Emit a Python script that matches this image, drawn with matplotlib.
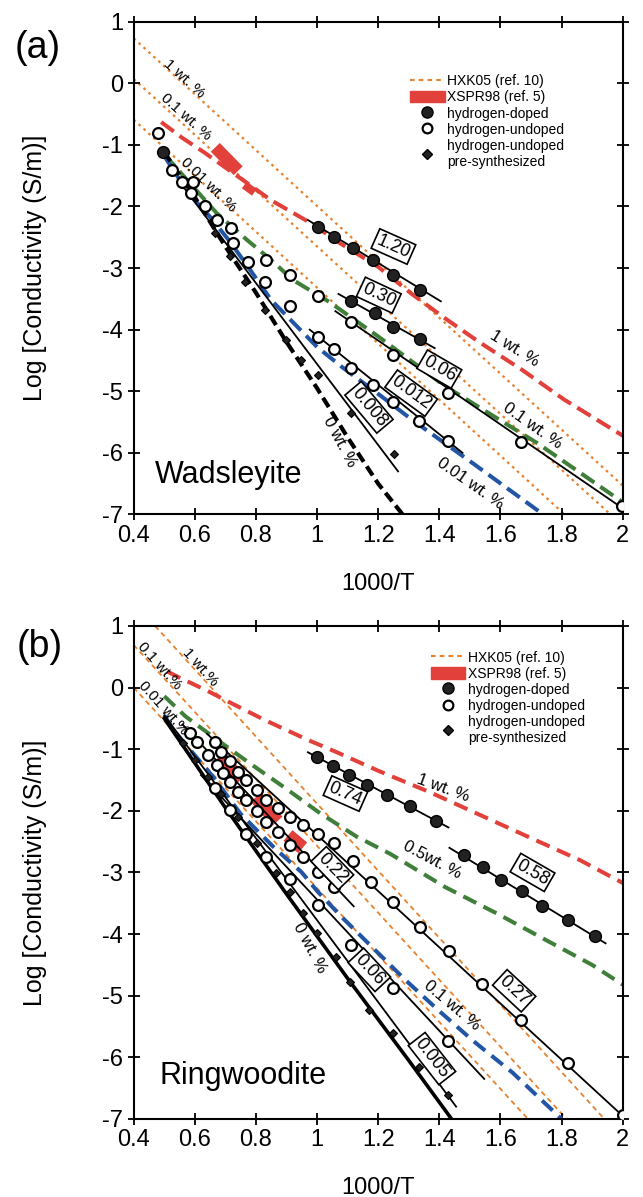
import matplotlib
matplotlib.use("Agg")
import matplotlib.pyplot as plt
from matplotlib.lines import Line2D
from matplotlib.patches import Patch

plt.rcParams['font.family'] = ['Liberation Sans', 'DejaVu Sans']
plt.rcParams['axes.unicode_minus'] = False

ORANGE = '#E8822E'
RED = '#E2403A'
GREEN = '#3F7F3A'
BLUE = '#2255A4'

x_ticks = [0.4, 0.6, 0.8, 1.0, 1.2, 1.4, 1.6, 1.8, 2.0]
x_tick_labels = ['0.4', '0.6', '0.8', '1', '1.2', '1.4', '1.6', '1.8', '2']
y_ticks = [1, 0, -1, -2, -3, -4, -5, -6, -7]
y_tick_labels = ['1', '0', '-1', '-2', '-3', '-4', '-5', '-6', '-7']

# ---------------- (a) Wadsleyite ----------------
# HXK05 model lines (end points) for 1, 0.1, 0.01 wt.%
a_hxk_x = [[0.4, 2.0], [0.4, 1.96], [0.4, 1.81]]
a_hxk_y = [[0.73, -6.53], [0.07, -7.0], [-0.59, -7.0]]

# this study, model curves
a_red_x = [0.49, 0.56, 0.63, 0.76, 0.85, 0.92, 0.99, 1.06, 1.2, 1.31, 1.42, 1.53, 1.67, 1.81, 2.0]
a_red_y = [-0.63, -0.89, -1.12, -1.58, -1.9, -2.1, -2.3, -2.55, -2.98, -3.42, -3.82, -4.2, -4.65, -5.14, -5.72]
a_green_x = [0.5, 0.58, 0.67, 0.77, 0.85, 0.92, 1.04, 1.2, 1.42, 1.56, 1.72, 2.0]
a_green_y = [-1.15, -1.6, -2.1, -2.54, -2.87, -3.19, -3.55, -4.11, -4.92, -5.35, -5.84, -6.8]
a_blue_x = [0.5, 0.53, 0.58, 0.65, 0.71, 0.77, 0.85, 1.0, 1.08, 1.21, 1.31, 1.51, 1.74]
a_blue_y = [-1.18, -1.41, -1.79, -2.17, -2.54, -2.95, -3.52, -4.28, -4.6, -5.08, -5.46, -6.17, -7.0]
a_black_x = [0.5, 0.6, 0.7, 0.8, 0.9, 1.0, 1.1, 1.2, 1.28]
a_black_y = [-1.12, -1.85, -2.65, -3.4, -4.2, -4.95, -5.75, -6.5, -7.0]

# XSPR98 segments
a_xspr_x = [[0.667, 0.742], [0.762, 0.795]]
a_xspr_y = [[-1.04, -1.42], [-1.65, -1.77]]
a_xspr_w = [9, 6]

# hydrogen-doped
a_d120_x = [1.003, 1.057, 1.117, 1.182, 1.25, 1.336]
a_d120_y = [-2.33, -2.49, -2.68, -2.87, -3.11, -3.35]
a_d120_fit = ([0.97, 1.405], [-2.22, -3.54])
a_d030_x = [1.112, 1.188, 1.25, 1.337]
a_d030_y = [-3.54, -3.73, -3.95, -4.15]
a_d030_fit = ([1.07, 1.385], [-3.42, -4.3])
a_dstart_x = [0.497]
a_dstart_y = [-1.12]

# hydrogen-undoped
a_u006_x = [1.112, 1.248, 1.427, 1.667, 1.998]
a_u006_y = [-3.87, -4.41, -5.02, -5.83, -6.87]
a_u006_fit = ([1.06, 2.0], [-3.7, -6.9])
a_u0012_x = [1.003, 1.057, 1.112, 1.182, 1.25, 1.335, 1.427]
a_u0012_y = [-4.12, -4.32, -4.63, -4.9, -5.18, -5.48, -5.81]
a_u0012_fit = ([0.976, 1.476], [-4.0, -6.0])
a_uhigh_x = [0.48, 0.524, 0.557, 0.595, 0.586, 0.633, 0.671, 0.72, 0.725, 0.774, 0.834, 0.829, 0.91, 0.91, 1.003]
a_uhigh_y = [-0.81, -1.41, -1.60, -1.60, -1.78, -2.0, -2.22, -2.35, -2.6, -2.9, -2.87, -3.22, -3.11, -3.62, -3.46]

# hydrogen-undoped pre-synthesized
a_p_x = [0.665, 0.714, 0.763, 0.829, 0.9, 0.948, 1.003, 1.112, 1.253]
a_p_y = [-2.43, -2.81, -3.22, -3.68, -4.16, -4.49, -4.74, -5.36, -6.02]
a_p_fit = ([0.55, 1.265], [-1.6, -6.3])

a_boxes = [('1.20', 1.25, -2.65, -24), ('0.30', 1.202, -3.44, -25), ('0.06', 1.40, -4.64, -30),
           ('0.012', 1.308, -5.03, -36), ('0.008', 1.17, -5.26, -50)]
a_labels = [('1 wt. %', 0.565, 0.08, -42, 11), ('0.1 wt. %', 0.572, -0.545, -42, 11),
            ('0.01 wt. %', 0.645, -1.64, -44, 11), ('1 wt. %', 1.645, -4.3, -32, 12),
            ('0.1 wt. %', 1.705, -5.57, -35, 12), ('0.01 wt. %', 1.503, -6.49, -35, 12),
            ('0 wt. %', 1.073, -5.82, -62, 12)]

# ---------------- (b) Ringwoodite ----------------
b_hxk_x = [[0.47, 1.94], [0.4, 1.816], [0.4, 1.69]]
b_hxk_y = [[1.0, -7.0], [0.69, -7.0], [0.0, -7.0]]

b_red_x = [0.51, 0.55, 0.64, 0.71, 0.83, 0.97, 1.06, 1.2, 1.37, 1.53, 1.69, 1.86, 2.0]
b_red_y = [0.26, 0.16, -0.05, -0.23, -0.53, -0.85, -1.04, -1.35, -1.7, -2.06, -2.42, -2.8, -3.17]
b_green_x = [0.5, 0.57, 0.66, 0.78, 0.89, 1.01, 1.13, 1.24, 1.42, 1.59, 1.75, 1.9, 2.0]
b_green_y = [-0.14, -0.47, -0.8, -1.23, -1.61, -2.04, -2.42, -2.7, -3.24, -3.67, -4.1, -4.5, -4.82]
b_blue_x = [0.5, 0.53, 0.66, 0.75, 0.86, 0.95, 1.0, 1.08, 1.29, 1.4, 1.51, 1.64, 1.8]
b_blue_y = [-0.45, -0.69, -1.45, -2.05, -2.6, -3.0, -3.3, -3.72, -4.75, -5.25, -5.73, -6.25, -7.0]
b_black_x = [0.5, 0.7, 0.9, 1.1, 1.3, 1.44]
b_black_y = [-0.5, -1.95, -3.35, -4.72, -6.05, -7.0]

b_xspr_x = [[0.68, 0.75], [0.8, 0.87], [0.905, 0.953]]
b_xspr_y = [[-1.12, -1.5], [-1.78, -2.17], [-2.4, -2.6]]
b_xspr_w = [10, 10, 10]

b_d074_x = [1.0, 1.053, 1.105, 1.162, 1.228, 1.303, 1.39]
b_d074_y = [-1.13, -1.28, -1.42, -1.58, -1.74, -1.93, -2.16]
b_d074_fit = ([0.97, 1.43], [-1.05, -2.27])
b_d058_x = [1.482, 1.542, 1.602, 1.67, 1.737, 1.822, 1.908]
b_d058_y = [-2.72, -2.91, -3.12, -3.30, -3.55, -3.77, -4.03]
b_d058_fit = ([1.433, 1.944], [-2.6, -4.15])

b_u027_x = [0.665, 0.687, 0.714, 0.741, 0.769, 0.802, 0.834, 0.872, 0.91, 0.954, 1.003, 1.057,
            1.116, 1.176, 1.25, 1.337, 1.431, 1.539, 1.667, 1.821, 2.0]
b_u027_y = [-0.88, -1.04, -1.2, -1.37, -1.5, -1.66, -1.82, -1.96, -2.1, -2.23, -2.37, -2.53,
            -2.82, -3.16, -3.48, -3.88, -4.28, -4.81, -5.4, -6.09, -6.93]
b_u027_fit = ([0.64, 2.0], [-0.75, -6.95])
b_u022_x = [0.584, 0.606, 0.644, 0.671, 0.693, 0.714, 0.741, 0.769, 0.802, 0.834, 0.872, 0.91,
            0.954, 1.003, 1.055]
b_u022_y = [-0.73, -0.89, -1.09, -1.26, -1.39, -1.53, -1.69, -1.82, -2.01, -2.18, -2.34, -2.56,
            -2.75, -2.99, -3.23]
b_u022_fit = ([0.56, 1.12], [-0.6, -3.55])
b_u006_x = [0.665, 0.714, 0.769, 0.834, 0.91, 1.003, 1.11, 1.249, 1.429]
b_u006_y = [-1.63, -1.99, -2.37, -2.75, -3.1, -3.53, -4.17, -4.87, -5.73]
b_u006_fit = ([0.62, 1.547], [-1.42, -6.35])

b_p_x = [0.56, 0.60, 0.644, 0.687, 0.741, 0.802, 0.867, 0.91, 0.954, 1.0, 1.062, 1.109,
         1.171, 1.248, 1.335, 1.427]
b_p_y = [-0.9, -1.18, -1.45, -1.72, -2.1, -2.53, -3.01, -3.32, -3.66, -3.98, -4.38, -4.78,
         -5.23, -5.61, -6.15, -6.61]
b_p_fit = ([0.5, 1.455], [-0.45, -6.8])

b_boxes = [('0.74', 1.093, -1.72, -24), ('0.58', 1.705, -3.0, -30), ('0.22', 1.05, -2.93, -46),
           ('0.27', 1.645, -4.92, -43), ('0.06', 1.171, -4.58, -47), ('0.005', 1.376, -6.02, -52)]
b_labels = [('1 wt.%', 0.618, 0.33, -48, 11), ('0.1 wt.%', 0.485, 0.35, -48, 11),
            ('0.01 wt.%', 0.498, -0.34, -48, 11), ('1 wt. %', 1.411, -1.63, -20, 12),
            ('0.5wt. %', 1.378, -2.8, -28, 12), ('0.1 wt. %', 1.443, -5.16, -40, 12),
            ('0 wt. %', 0.976, -4.23, -62, 12)]


def setup(ax):
    ax.set_xlim(0.4, 2.0)
    ax.set_ylim(-7, 1)
    ax.set_xticks(x_ticks)
    ax.set_xticklabels(x_tick_labels)
    ax.set_yticks(y_ticks)
    ax.set_yticklabels(y_tick_labels)
    ax.tick_params(direction='inout', length=8, width=1.3, labelsize=17, pad=3.5,
                   top=True, right=True)
    for s in ax.spines.values():
        s.set_linewidth(1.5)
    ax.set_xlabel('1000/T', fontsize=17)
    ax.xaxis.set_label_coords(0.5, -0.118)
    ax.set_ylabel('Log [Conductivity (S/m)]', fontsize=18)
    ax.yaxis.set_label_coords(-0.178, 0.5)


def open_pts(ax, x, y):
    ax.plot(x, y, 'o', ms=7.8, mfc='white', mec='black', mew=1.6, ls='none', zorder=6)


def filled_pts(ax, x, y):
    ax.plot(x, y, 'o', ms=8.5, mfc='#222222', mec='black', mew=1, ls='none', zorder=6)


def pre_pts(ax, x, y):
    ax.plot(x, y, 'D', ms=4.5, mfc='#222222', mec='black', mew=0.8, ls='none', zorder=6)


def fit(ax, f, lw=1.3):
    ax.plot(f[0], f[1], color='black', lw=lw, zorder=5)


def boxes(ax, items):
    for txt, x, y, rot in items:
        ax.text(x, y, txt, fontsize=13, rotation=rot, rotation_mode='anchor',
                ha='center', va='center', zorder=8,
                bbox=dict(boxstyle='square,pad=0.12', fc='white', ec='black', lw=1.2))


def labels(ax, items):
    for txt, x, y, rot, fs in items:
        ax.text(x, y, txt, fontsize=fs, rotation=rot, rotation_mode='anchor',
                ha='center', va='center', zorder=7)


def legend(ax, anchor):
    h = [Line2D([], [], color=ORANGE, lw=1.5, ls=(0, (2.2, 2))),
         Patch(fc=RED, ec=RED),
         Line2D([], [], marker='o', ms=8, mfc='#222222', mec='black', ls='none'),
         Line2D([], [], marker='o', ms=7, mfc='white', mec='black', mew=1.6, ls='none'),
         Line2D([], [], marker='D', ms=5, mfc='#222222', mec='black', ls='none')]
    lab = ['HXK05 (ref. 10)', 'XSPR98 (ref. 5)', 'hydrogen-doped', 'hydrogen-undoped',
           'hydrogen-undoped\npre-synthesized']
    ax.legend(h, lab, loc='upper left', bbox_to_anchor=anchor, frameon=False, fontsize=10,
              borderpad=0, borderaxespad=0, handlelength=2.5, handleheight=0.9,
              handletextpad=0.2, labelspacing=0.15)


fig = plt.figure(figsize=(6.43, 11.97), dpi=100)
axA = fig.add_axes([0.2079, 0.5702, 0.7605, 0.4117])
axB = fig.add_axes([0.2079, 0.0652, 0.7605, 0.4119])

# ---- panel (a)
ax = axA
setup(ax)
for xs, ys in zip(a_hxk_x, a_hxk_y):
    ax.plot(xs, ys, color=ORANGE, lw=1.6, ls=(0, (1.2, 1.8)), zorder=1)
ax.plot(a_red_x, a_red_y, color=RED, lw=2.9, ls=(0, (3.9, 1.8)), zorder=2)
ax.plot(a_green_x, a_green_y, color=GREEN, lw=2.9, ls=(0, (3.9, 1.8)), zorder=2)
ax.plot(a_blue_x, a_blue_y, color=BLUE, lw=2.9, ls=(0, (3.9, 1.8)), zorder=2)
ax.plot(a_black_x, a_black_y, color='black', lw=3, ls=(0, (2.6, 1.3)), zorder=2)
for xs, ys, w in zip(a_xspr_x, a_xspr_y, a_xspr_w):
    ax.plot(xs, ys, color=RED, lw=w, solid_capstyle='butt', zorder=3)
fit(ax, a_d120_fit)
fit(ax, a_d030_fit)
fit(ax, a_u006_fit)
fit(ax, a_u0012_fit)
fit(ax, a_p_fit)
filled_pts(ax, a_d120_x, a_d120_y)
filled_pts(ax, a_d030_x, a_d030_y)
filled_pts(ax, a_dstart_x, a_dstart_y)
open_pts(ax, a_u006_x, a_u006_y)
open_pts(ax, a_u0012_x, a_u0012_y)
open_pts(ax, a_uhigh_x, a_uhigh_y)
pre_pts(ax, a_p_x, a_p_y)
boxes(ax, a_boxes)
labels(ax, a_labels)
ax.text(0.47, -6.49, 'Wadsleyite', fontsize=22, ha='left', va='baseline')
legend(ax, (0.565, 0.893))

# ---- panel (b)
ax = axB
setup(ax)
for xs, ys in zip(b_hxk_x, b_hxk_y):
    ax.plot(xs, ys, color=ORANGE, lw=1.3, ls=(0, (2.8, 2.2)), zorder=1)
ax.plot(b_red_x, b_red_y, color=RED, lw=2.9, ls=(0, (3.6, 2.0)), zorder=2)
ax.plot(b_green_x, b_green_y, color=GREEN, lw=2.9, ls=(0, (3.6, 2.0)), zorder=2)
ax.plot(b_blue_x, b_blue_y, color=BLUE, lw=2.9, ls=(0, (3.6, 2.0)), zorder=2)
ax.plot(b_black_x, b_black_y, color='black', lw=2.6, zorder=4)
for xs, ys, w in zip(b_xspr_x, b_xspr_y, b_xspr_w):
    ax.plot(xs, ys, color=RED, lw=w, solid_capstyle='butt', zorder=3)
fit(ax, b_d074_fit)
fit(ax, b_d058_fit)
fit(ax, b_u027_fit)
fit(ax, b_u022_fit)
fit(ax, b_u006_fit)
fit(ax, b_p_fit)
filled_pts(ax, b_d074_x, b_d074_y)
filled_pts(ax, b_d058_x, b_d058_y)
open_pts(ax, b_u027_x, b_u027_y)
open_pts(ax, b_u022_x, b_u022_y)
open_pts(ax, b_u006_x, b_u006_y)
pre_pts(ax, b_p_x, b_p_y)
boxes(ax, b_boxes)
labels(ax, b_labels)
ax.text(0.484, -6.44, 'Ringwoodite', fontsize=22, ha='left', va='baseline')
legend(ax, (0.607, 0.95))

fig.text(0.058, 1 - 48 / 1197, '(a)', fontsize=27, ha='center', va='center')
fig.text(0.062, 1 - 647 / 1197, '(b)', fontsize=27, ha='center', va='center')

fig.savefig('out.png', dpi=100)
